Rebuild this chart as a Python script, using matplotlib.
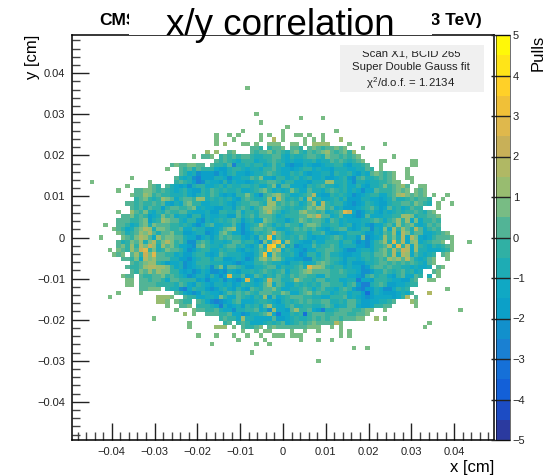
import matplotlib
matplotlib.use('Agg')
import matplotlib.pyplot as plt
from matplotlib.colors import ListedColormap, BoundaryNorm
from matplotlib.patches import Rectangle
from matplotlib.ticker import MultipleLocator
import numpy as np

plt.rcParams['font.family'] = ['Liberation Sans', 'DejaVu Sans']
plt.rcParams['mathtext.fontset'] = 'custom'
plt.rcParams['mathtext.rm'] = 'Liberation Sans'
plt.rcParams['mathtext.it'] = 'Liberation Sans'

# pull per bin, one string per y bin from the top, blocks of 10 x bins
# a..t are the 20 palette levels from -5 to 5, '.' is an empty bin
pull_rows = [
    '', '', '', '', '', '', '', '', '', '', '', '',
    '.......... .......... .......... .........l',
    '', '', '', '', '',
    '.......... .......... .......... .......... .l........',
    '.......... .......... .......... .......... .......... .l....l...',
    '.......... .......... .......... .......... ..l.......',
    '.......... .......... .......... .......... ........l.',
    '.......... .......... .......... ........l. .......l.. .........l',
    '.......... .......... .......... ..l..l.l.. ..l.l..l.. ll.l..l...',
    '.......... .......... .......... ..l...l... ..l..n.l.. ..l.l.l... m.........',
    '.......... .......... .......... ..l.m...ll .l..lll..l l.l.mmmm.. ..l....... l.........',
    '.......... .......... .......... .......... kkj.jkkl.k kj.klkjkkl kl...l....',
    '.......... .......... .......... m.m..kl... kjkkljkjik ljikjklmkj kljm......',
    '.......... .......... .......l.k kl.jkjkjkk jiijjkkihj iijkkjilkk jkjkl..... ..l.......',
    '.......... .......... .......... ..kjkjihjj jhiijkjihi hhiijhiikj kjijkl...l l.....ll..',
    '.......... .......... ..klkkllkk .kjjikeiij ijjhikijgf ggihgghiij jhgiijk..l ......ll..',
    '.......... .......... .l..kjkikj jjhggijjih iihjjkihhg hijjhihhgi iihhiikj.l .....l....',
    '.......... .......... ....kjhifg ggfhgijhhg hiijkjihhj ijhghhiigj iijhgihklk jkl..l....',
    '.......... ...l...... ...kihifeg ggiihfhhii kjlhhgjjhi jhijhhiggh ijgfjkiijk jkl..ll...',
    '....l..... .......l.. ...jkjigef ihhgjgihhg hijjkkjhjj hhhgiiimmi ijhfiihiij jkll..l...',
    '.......... ..l....lkj .kihghfijj hhijhjiijj ijhhjlgkkh hhgjijkiih ijhhjhgiij ljklmk..ll',
    '.......... l...kkllkj kjihijhggj ikjijiijhh ijkljhihil jhhkiihjkj ijhihfhhkj jjklkl.lkl',
    '.......... ...lkkmljk jjiiijhgij ikjhghgjjl jhfjklmkjh hijknhggji jihfghijjh hjkmnlklkl .l..l.....',
    '.......... ....jkljij mlkhjkkjmm ijijijhgjk jiijmhnkij ikhnijhhij hjgggiihhg hikiijkjkk j..l......',
    '.......... ..kkjkjjkj khgihkljjh hiijihgijj kkjimmjkjk jhikmhnjij jhgfghjihg gijjkkjlkj i.l..l....',
    '.......... ...kjkikjj gjkkjjklhi hhggiigjkj hjkmmlkjij iijlkmmjkh iggghijkig hkijhikjj. ..l.......',
    '.......... l..mkjlihj ikjjkkihhh iggjjiikhj jiklnkjhij jlmkkjkhij kpohfgijhg ihijijjkji kl........',
    '.......... .kkljkjghi ljkhiigjjg ihhiiggkij kikkkjhijj jkkmlokkhi khhgfgkhhh iijjmmlijj kkl.......',
    '.......... kkkjjklgij mlkkihjjgf ihijijkjgi jhhlkjiigi jlkjkkjhkj hihhhiijkj hjkmjmhlhj jkj.......',
    '.......l.. kkjhiklilk kkjjijigfh jkhhiikhfh ijmkjhjikj jhkllkiijj hijghigfhh jkimjklihi kjk.......',
    '.........l kjhiklnmil lkjjkhhjii gghiklmhfh jkkjkjhhij kjkjkihgij kkhghjjfih lhmjmkinkh jkj.......',
    '.......... lkijkmlnki kkljjgghii fghkljhhfg hjijkokjhi jjjhjjkhgg hhjjjiggih kjmhnlikkh hijkl.....',
    '......l... .lkjlnmkhm kllkkihhfh igikjkjjhg igkjqhkjij ikjhghhijk jhiiglfghi mjlinhnlhg hjkkkl....',
    '.......... kijlkmilnj lnljkiffjk jhiihikkij jhflioqhmj ihggjhhjjj hjjhfgfhjk mipjnhlmhi jkkl.l...l',
    '.......... kljmjnlomi mkljhhgfkl jiihjkkijh gilhqrjmhj fghhkijjkj hiiiggfhjj knipjnhmji hjijkl....',
    '........l. lkjmkopjli jlkkjhfgij jhhjijjhgi hikjqlnhji hgfhhjjkkj igffhiihjk ljnkonhmii hhhijl....',
    '.........l kl.kmjolpk kjjhiggijj hghkjiiihg gikqhmkiij hfgjjhjkii hgghhjjikk ljninmhkih ij.kl.....',
    '.......... .kkjlhnlmk kkiiggfhij jhjjgghihf gjlmkmljhh ggffjijkjj igiihijijk jmlmknkihi kl..l.....',
    '.......... ...kjklmmj ighhifghjj jiiihhgfgh hjjkjiihgi ijhhiklkji hgigggiijk kjkjkjkjih kl........',
    '.......... ..kjjkmnnm mljhifghij ifjlgkkjig giijkkhjii jkipmmljij jhihhfgjkk jkjjiihihh i.kl......',
    '.......... ...kjlkmkm lljjhghfgi hffgfihgii jijkjijkhj jklmkkkkjj kjiihffgii kjijkijhi. .kl.......',
    '.......... .lkk.kjjkk ljkjihfgii gjhfhpiikg hkjhjikjik jkkjjhhkjj jjhhgfjkij jhgjkhhkj. i.l.......',
    '.......... ..ll.kkjkk jhkkjjjjgh fhhifhgfhp ighjokkiij mkjjikkijj hhiiehhgjj jihhggjk.. ll........',
    '.......... ..ll.kkkkj jjjikjhgji hgiihighji ihikmhkjhh jijijikkjj jhjkgeeijk jgghhijj..',
    '.......... .....kklll .jiifehjii gfgijhgjhg kjikkljhhi ijkjhjkiih jkjgfeggih ffhjij.... ....l.....',
    '.......... l....l.... ...kjhgfgj ihhgikjkjk jikkkjjlkh hjkljkjjhi jjhiigdgih ggghihk... n.........',
    '........l. .........m mml..kjjhh iihljhhkji hjimgkhijk kkjjiihhjj jkhihgfghh hhghjn.k..',
    '.......... .........m ml.lkjj.kj hfefghjkhh hijjihgiji jkjkjjkkii jikkigghhi ijk...ml..',
    '.......... .......... .l..kkl.jj jiheighigj ijhkmihhjk iijjiijkjh iikkhgghjj kk.....l..',
    '.......... .......... ...l...lkk jjkihhfiij jkhifmhhgk mjjkhgeiij kkkjjkll.. l......... .......l..',
    '.......... .......... .....m.l.. kkkjjkhhfg iijkmhehhj ijdjkkkjjk kkjjkkl...',
    '.......... ........l. .......... ...jkjjhmi ihhhhkgghi jiijkjkjkk jkkkll..m. l.........',
    '.......... .......... ......l... ....jk.jkj hhhijijkhi jkjklkkkkn l......... .......... l.........',
    '.......... .......... ......l... ..mmm.l.kj jkl.klkkkk kkklll..l. l......... .........l',
    '.......... .......... .......... ........l. .l.ll....l ..l..l.... l.l.......',
    '.......... .......... ........l. ..l...l..l ..l..lll.l ll........ l.l.......',
    '.......... .......... .......... .......l.. ...l...... .l...l..l.',
    '.......... .......... .......... .l........ .l..l.....',
    '.......... .......... .......... .......... .......... .......... ...l..l...',
    '.......... .......... .......... .......... l.........',
    '',
    '.......... .......... .......... .......... .......... .....l....',
]
level_chars = 'abcdefghijklmnopqrst'
x_ticks = [-0.04, -0.03, -0.02, -0.01, 0, 0.01, 0.02, 0.03, 0.04]
y_ticks = [-0.04, -0.03, -0.02, -0.01, 0, 0.01, 0.02, 0.03, 0.04]
tick_labels = ['\u22120.04', '\u22120.03', '\u22120.02', '\u22120.01', '0', '0.01', '0.02', '0.03', '0.04']
z_ticks = [-5, -4, -3, -2, -1, 0, 1, 2, 3, 4, 5]
z_labels = ['\u22125', '\u22124', '\u22123', '\u22122', '\u22121', '0', '1', '2', '3', '4', '5']
info_lines = ['Scan X1, BCID 265', 'Super Double Gauss fit', '$\\chi^2$/d.o.f. = 1.2134']

# palette, bottom to top
palette = ['#2b3a9f', '#1c4cc4', '#1360d8', '#1570d8', '#1a80d2', '#1290cc', '#0ca0c8', '#10a8c4',
           '#1eacb4', '#30b0a4', '#52b496', '#78bc84', '#98bc70', '#b0b864', '#c8b058', '#dfb84c',
           '#f0c038', '#ffd028', '#ffe418', '#fff808']

n_bins = 95
limit = 0.0493
pulls = np.full((n_bins, n_bins), np.nan)
for row, text in enumerate(pull_rows):
    for col, ch in enumerate(text.replace(' ', '')):
        if ch != '.':
            pulls[n_bins - 1 - row, col] = -5 + 0.5 * (level_chars.index(ch) + 0.5)

W, H = 552, 475
fig = plt.figure(figsize=(W / 100, H / 100), dpi=100)
ax = fig.add_axes([72 / W, 1 - 440 / H, 422 / W, 405 / H])

edges_x = np.linspace(-limit, limit, n_bins + 1)
edges_y = np.linspace(-limit, limit, n_bins + 1)
cmap = ListedColormap(palette)
norm = BoundaryNorm(np.linspace(-5, 5, 21), 20)
mesh = ax.pcolormesh(edges_x, edges_y, np.ma.masked_invalid(pulls), cmap=cmap, norm=norm)

ax.set_xlim(-limit, limit)
ax.set_ylim(-limit, limit)
ax.set_xticks(x_ticks)
ax.set_xticklabels(tick_labels, fontsize=8)
ax.set_yticks(y_ticks)
ax.set_yticklabels(tick_labels, fontsize=8)
ax.xaxis.set_minor_locator(MultipleLocator(0.002))
ax.yaxis.set_minor_locator(MultipleLocator(0.002))
ax.tick_params(which='major', direction='in', length=12, width=1, pad=5, color='#222222', labelcolor='#222222')
ax.tick_params(which='minor', direction='in', length=6, width=1, color='#444444')
for spine in ax.spines.values():
    spine.set_linewidth(1.1)
ax.set_xlabel('x [cm]', fontsize=12, loc='right', labelpad=2)
ax.set_ylabel('y [cm]', fontsize=12, loc='top', labelpad=-2)

# colour bar
cax = fig.add_axes([496 / W, 1 - 440 / H, 14 / W, 405 / H])
cbar = fig.colorbar(mesh, cax=cax, drawedges=False)
cbar.set_ticks(z_ticks)
cbar.set_ticklabels(z_labels, fontsize=8)
cbar.ax.minorticks_off()
cax.tick_params(direction='in', length=14, width=1, pad=2, color='#222222', labelcolor='#222222')
cbar.outline.set_linewidth(0.4)
cbar.set_label('Pulls', fontsize=12, loc='top', labelpad=4)

# header behind the title box
fig.text(99 / W, 1 - 25 / H, 'CMS', fontsize=12.5, fontweight='bold', va='baseline', zorder=4)
fig.text(482 / W, 1 - 25 / H, '(13 TeV)', fontsize=12.5, fontweight='bold', ha='right', va='baseline', zorder=4)
fig.add_artist(Rectangle((129 / W, 1 - 35 / H), 303 / W, 35 / H, transform=fig.transFigure,
                         facecolor='white', edgecolor='none', zorder=5))
fig.text(280 / W, 1 - 35 / H, 'x/y correlation', fontsize=26.5, ha='center', va='baseline', zorder=6)

# info box, top of the first line is cut by the box strip
fig.add_artist(Rectangle((340 / W, 1 - 92 / H), 144 / W, 47 / H, transform=fig.transFigure,
                         facecolor='#f0f0f0', edgecolor='none', zorder=5))
for line, py in zip(info_lines, [53, 67, 83]):
    fig.text(411 / W, 1 - py / H, line, fontsize=8.2, ha='center', va='center', color='#222222', zorder=6)
fig.add_artist(Rectangle((340 / W, 1 - 51 / H), 144 / W, 6 / H, transform=fig.transFigure,
                         facecolor='#f0f0f0', edgecolor='none', zorder=7))

fig.savefig('out.png', dpi=100)
